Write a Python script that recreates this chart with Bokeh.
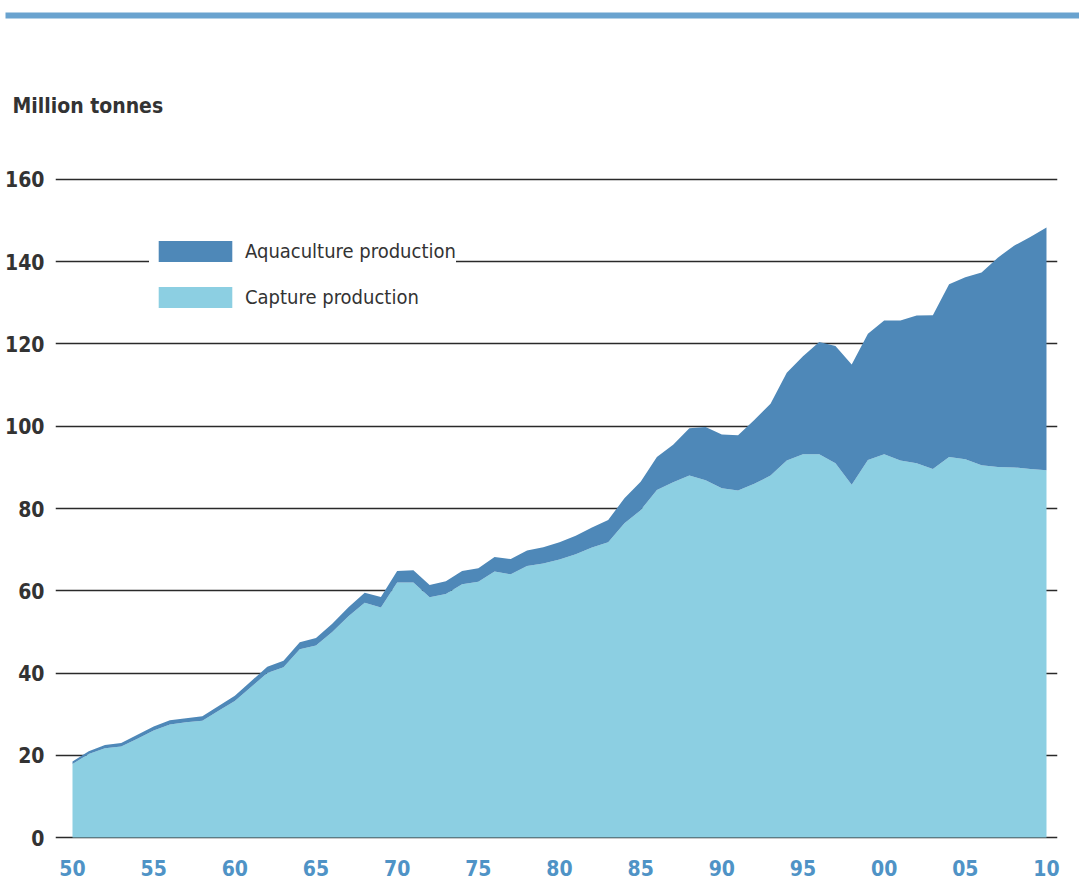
from bokeh.plotting import figure
from bokeh.layouts import column
from bokeh.models import (ColumnDataSource, Range1d, FixedTicker, Legend, LegendItem,
                          Label, BoxAnnotation)
from bokeh.embed import file_html
from bokeh.resources import INLINE

# ---- data (million tonnes) ----
years = list(range(1950, 2011))
capture = [17.9, 20.3, 21.7, 22.1, 24.0, 26.0, 27.5, 28.0, 28.4, 30.8,
           33.2, 36.6, 40.0, 41.4, 45.8, 46.7, 50.0, 53.8, 57.1, 55.9,
           62.0, 62.0, 58.4, 59.2, 61.6, 62.2, 64.7, 64.0, 66.0, 66.6,
           67.6, 68.9, 70.5, 71.8, 76.4, 79.6, 84.5, 86.4, 88.0, 86.9,
           84.9, 84.4, 86.0, 88.0, 91.7, 93.2, 93.2, 91.0, 85.8, 91.8,
           93.2, 91.7, 91.0, 89.6, 92.5, 92.0, 90.5, 90.1, 90.0, 89.6,
           89.3]
aquaculture = [0.6, 0.7, 0.8, 0.9, 1.0, 1.0, 1.0, 1.0, 1.1, 1.2,
               1.3, 1.4, 1.5, 1.6, 1.7, 1.8, 2.0, 2.2, 2.4, 2.6,
               2.8, 3.0, 3.0, 3.1, 3.2, 3.3, 3.5, 3.7, 3.8, 4.0,
               4.2, 4.5, 4.9, 5.4, 6.1, 6.9, 8.0, 9.1, 11.5, 12.9,
               13.1, 13.4, 15.5, 17.5, 21.3, 23.8, 27.3, 28.5, 29.2, 30.7,
               32.5, 34.0, 35.9, 37.4, 42.0, 44.2, 46.9, 50.9, 53.9, 56.4,
               59.0]
x_ticks = [1950, 1955, 1960, 1965, 1970, 1975, 1980, 1985, 1990, 1995, 2000, 2005, 2010]
x_tick_labels = ["50", "55", "60", "65", "70", "75", "80", "85", "90", "95", "00", "05", "10"]
y_ticks = [0, 20, 40, 60, 80, 100, 120, 140, 160]
series_names = ["Aquaculture production", "Capture production"]
unit_label = "Million tonnes"

CAPTURE_COLOR = "#8ccfe2"
AQUA_COLOR = "#4e88b8"
BAND_COLOR = "#6aa3cf"
FONT = "DejaVu Sans Condensed"

# ---------- header strip: decorative band + unit label ----------
head = figure(width=1079, height=150, output_backend="svg", toolbar_location=None,
              x_range=Range1d(0, 1079), y_range=Range1d(150, 0),
              x_axis_type=None, y_axis_type=None,
              min_border_left=0, min_border_right=0, min_border_top=0, min_border_bottom=0)
head.frame_align = False
head.outline_line_color = None
head.grid.visible = False
head.add_layout(BoxAnnotation(left=5, right=1079, top=12, bottom=18,
                              fill_color=BAND_COLOR, fill_alpha=1.0, line_color=None))
head.add_layout(Label(x=12, y=105, text=unit_label, text_font=FONT,
                      text_font_size="21px", text_font_style="bold",
                      text_color="#333333", text_baseline="middle", text_align="left"))

# ---------- main chart ----------
source = ColumnDataSource(dict(year=years, capture=capture, aquaculture=aquaculture))

p = figure(width=1079, height=746, output_backend="svg", toolbar_location=None,
           x_range=Range1d(1948.953, 2010.678), y_range=Range1d(-0.97, 167.05),
           min_border_left=55, min_border_right=22, min_border_top=0,
           min_border_bottom=55)
p.frame_align = False
p.outline_line_color = None
p.background_fill_color = "white"
p.border_fill_color = "white"

renderers = p.varea_stack(["capture", "aquaculture"], x="year", source=source,
                          color=[CAPTURE_COLOR, AQUA_COLOR])

p.xaxis.ticker = FixedTicker(ticks=x_ticks)
p.xaxis.major_label_overrides = {t: l for t, l in zip(x_ticks, x_tick_labels)}
p.yaxis.ticker = FixedTicker(ticks=y_ticks)
for ax in (p.xaxis, p.yaxis):
    ax.axis_line_color = None
    ax.major_tick_line_color = None
    ax.minor_tick_line_color = None
    ax.major_label_text_font = FONT
    ax.major_label_text_font_size = "21px"
    ax.major_label_text_font_style = "bold"
p.xaxis.major_label_text_color = "#4f93c6"
p.xaxis.major_label_standoff = 12
p.yaxis.major_label_text_color = "#333333"
p.yaxis.major_label_standoff = 5

p.xgrid.grid_line_color = None
p.ygrid.ticker = FixedTicker(ticks=y_ticks)
p.ygrid.grid_line_color = "#2a2a2a"
p.ygrid.grid_line_width = 1.6

legend = Legend(items=[LegendItem(label=series_names[0], renderers=[renderers[1]]),
                       LegendItem(label=series_names[1], renderers=[renderers[0]])],
                location=(94, 531), orientation="vertical")
legend.background_fill_color = "white"
legend.background_fill_alpha = 1.0
legend.border_line_color = None
legend.glyph_width = 92
legend.glyph_height = 26
legend.label_standoff = 4
legend.label_text_font = FONT
legend.label_text_font_size = "20px"
legend.label_text_color = "#333333"
legend.padding = 10
legend.spacing = 20
legend.margin = 0
p.add_layout(legend, "center")

open("out.html", "w").write(file_html(column(head, p, spacing=0), INLINE))
